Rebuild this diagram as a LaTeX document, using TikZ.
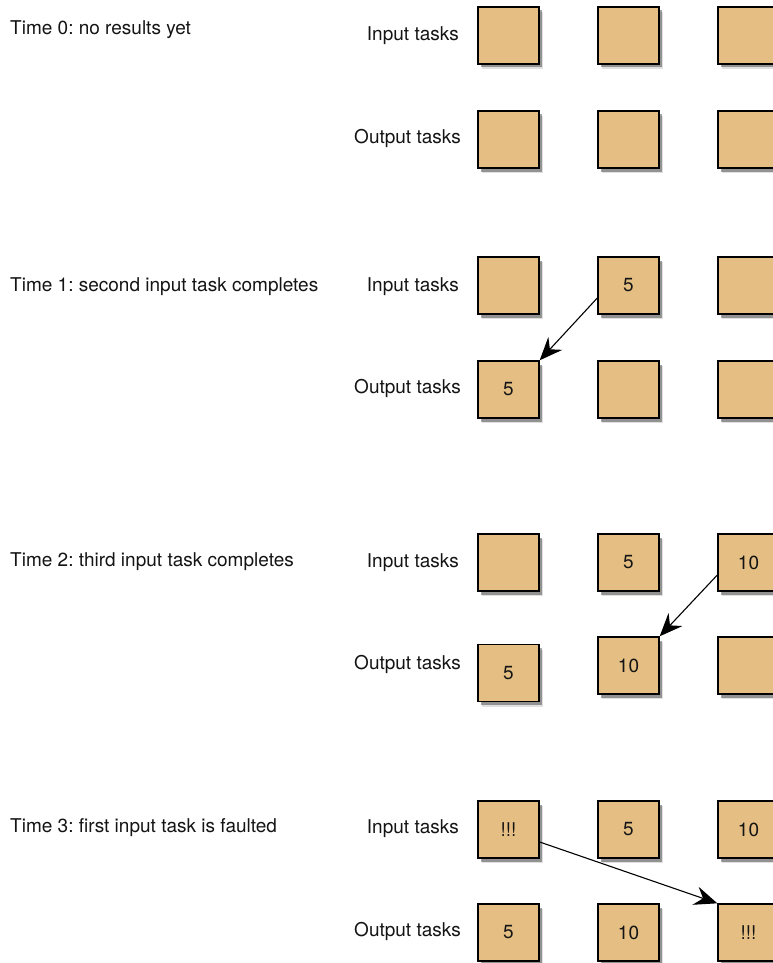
\documentclass[tikz,border=0pt]{standalone}
\usepackage{fontspec}
\setmainfont{TeX Gyre Heros}
\usetikzlibrary{arrows.meta,shadows,calc}
\frenchspacing

\definecolor{taskfill}{RGB}{228,190,130}
\definecolor{inkgray}{RGB}{20,20,20}

\tikzset{
  task/.style={draw=black, line width=1.4pt, fill=taskfill,
    minimum width=61pt, minimum height=57pt, inner sep=0pt,
    font=\fontsize{19}{22}\selectfont, text=inkgray,
    drop shadow={shadow xshift=4pt, shadow yshift=-5pt, fill=black, opacity=.12},
    drop shadow={shadow xshift=2.5pt, shadow yshift=-3.5pt, fill=black, opacity=.35}},
  rowlabel/.style={anchor=base east, inner sep=0pt, font=\fontsize{19}{22}\selectfont, text=inkgray},
  timelabel/.style={anchor=base west, inner sep=0pt, font=\fontsize{19}{23}\selectfont, text=inkgray},
  flow/.style={-{Stealth[length=23pt,width=19pt,inset=8pt]}, line width=1.1pt, black},
}

\begin{document}
\begin{tikzpicture}[x=1pt,y=-1pt]
  \useasboundingbox (0,0) rectangle (773,963);
  \clip (0,0) rectangle (773,963);

  % Time 0: nothing has come back.
  \node[timelabel] (t0) at (10,35) {Time 0: no results yet};
  \node[rowlabel] (in0) at (459,41) {Input tasks};
  \node[rowlabel] (out0) at (461,143) {Output tasks};
  \foreach \c/\x in {1/508.5,2/628.5,3/748.5} {
    \node[task] (in0\c) at (\x,35.5) {};
    \node[task] (out0\c) at (\x,139.5) {};
  }

  % Time 1: the second input task finishes first.
  \node[timelabel] (t1) at (10,291) {Time 1: second input task completes};
  \node[rowlabel] (in1) at (459,291) {Input tasks};
  \node[rowlabel] (out1) at (461,393) {Output tasks};
  \foreach \c/\x/\v in {1/508.5/{},2/628.5/5,3/748.5/{}}
    \node[task] (in1\c) at (\x,285.5) {\v};
  \foreach \c/\x/\v in {1/508.5/5,2/628.5/{},3/748.5/{}}
    \node[task] (out1\c) at (\x,389.5) {\v};
  \draw[flow] ([yshift=-12.5pt]in12.west) -- (out11.north east);

  % Time 2: the third input task finishes.
  \node[timelabel] (t2) at (10,566) {Time 2: third input task completes};
  \node[rowlabel] (in2) at (459,567) {Input tasks};
  \node[rowlabel] (out2) at (461,669) {Output tasks};
  \foreach \c/\x/\v in {1/508.5/{},2/628.5/5,3/748.5/10}
    \node[task] (in2\c) at (\x,562.5) {\v};
  \node[task] (out21) at (508.5,673) {5};
  \node[task] (out22) at (628.5,665.5) {10};
  \node[task] (out23) at (748.5,665.5) {};
  \draw[flow] ([yshift=-12.5pt]in23.west) -- (out22.north east);

  % Time 3: the first input task faults.
  \node[timelabel] (t3) at (10,832) {Time 3: first input task is faulted};
  \node[rowlabel] (in3) at (459,833) {Input tasks};
  \node[rowlabel] (out3) at (461,936) {Output tasks};
  \foreach \c/\x/\v in {1/508.5/!!!,2/628.5/5,3/748.5/10}
    \node[task] (in3\c) at (\x,829.5) {\v};
  \foreach \c/\x/\v in {1/508.5/5,2/628.5/10,3/748.5/!!!}
    \node[task] (out3\c) at (\x,932.5) {\v};
  \draw[flow] ([yshift=-12.5pt]in31.east) -- (out33.north west);
\end{tikzpicture}
\end{document}
